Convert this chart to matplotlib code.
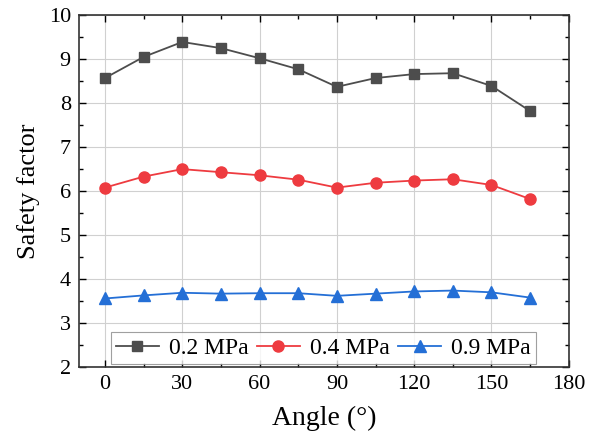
import matplotlib
matplotlib.use('Agg')
import matplotlib.pyplot as plt
from matplotlib.ticker import MultipleLocator

# --- data ---
angles = [0, 15, 30, 45, 60, 75, 90, 105, 120, 135, 150, 165]
sf_02 = [8.57, 9.05, 9.39, 9.25, 9.02, 8.77, 8.37, 8.57, 8.66, 8.68, 8.39, 7.82]
sf_04 = [6.08, 6.33, 6.50, 6.43, 6.36, 6.26, 6.08, 6.19, 6.24, 6.27, 6.14, 5.82]
sf_09 = [3.56, 3.63, 3.69, 3.67, 3.68, 3.68, 3.62, 3.67, 3.72, 3.74, 3.70, 3.58]
labels = ['0.2 MPa', '0.4 MPa', '0.9 MPa']

plt.rcParams['font.family'] = ['Liberation Serif', 'DejaVu Serif']

fig = plt.figure(figsize=(6, 4.45), dpi=100)
ax = fig.add_axes([0.132, 0.175, 0.816, 0.791])

ax.plot(angles, sf_02, color='#4d4d4d', marker='s', markersize=7, lw=1.3, label=labels[0])
ax.plot(angles, sf_04, color='#ee3b40', marker='o', markersize=8, lw=1.3, label=labels[1])
ax.plot(angles, sf_09, color='#246fd6', marker='^', markersize=8, lw=1.3, label=labels[2])

ax.set_xlim(-10, 180)
ax.set_ylim(2, 10)
ax.xaxis.set_major_locator(MultipleLocator(30))
ax.xaxis.set_minor_locator(MultipleLocator(15))
ax.yaxis.set_major_locator(MultipleLocator(1))
ax.yaxis.set_minor_locator(MultipleLocator(0.5))
ax.grid(True, which='major', color='#d0d0d0', lw=0.8)
ax.set_axisbelow(True)

# inward ticks on all four sides
ax.tick_params(which='both', direction='in', top=True, right=True, labelsize=16, pad=6)
ax.tick_params(which='major', length=5, width=1)
ax.tick_params(which='minor', length=3, width=1)
for s in ax.spines.values():
    s.set_linewidth(1.2)
    s.set_color('#333333')

ax.set_xlabel('Angle (°)', fontsize=20, labelpad=8)
ax.set_ylabel('Safety factor', fontsize=19, labelpad=6)

leg = ax.legend(ncol=3, loc='lower left', bbox_to_anchor=(0.065, 0.008), fontsize=17,
                frameon=True, fancybox=False, edgecolor='#888888', handlelength=1.8,
                columnspacing=0.35, handletextpad=0.45, borderpad=0.22, borderaxespad=0)
leg.get_frame().set_linewidth(0.8)

fig.savefig('out.png', dpi=100)
